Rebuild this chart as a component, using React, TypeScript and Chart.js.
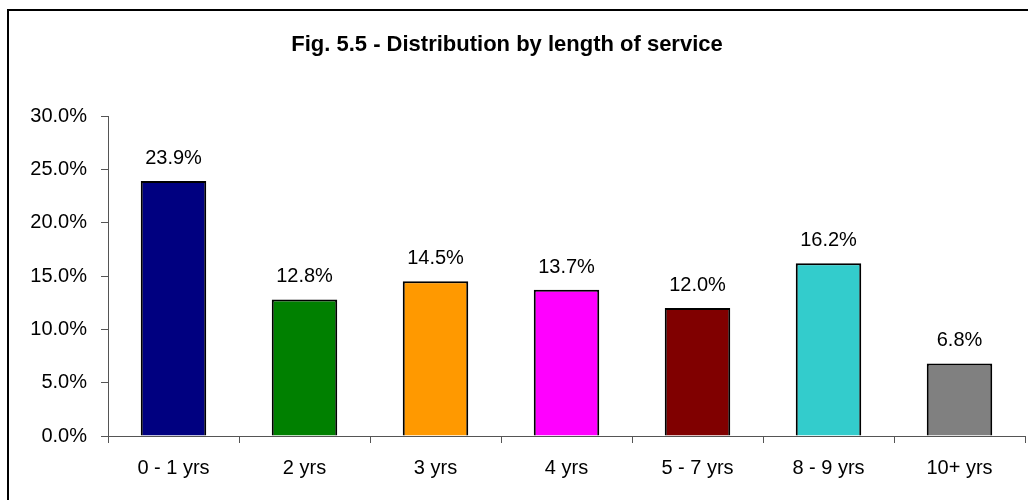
import React, { useEffect, useRef } from "react";
import { Chart, registerables } from "chart.js";

Chart.register(...registerables);

const TITLE = "Fig. 5.5 - Distribution by length of service";
const categories = ["0 - 1 yrs", "2 yrs", "3 yrs", "4 yrs", "5 - 7 yrs", "8 - 9 yrs", "10+ yrs"];
const shares = [23.9, 12.8, 14.5, 13.7, 12.0, 16.2, 6.8];
const barColors = ["#000080", "#008000", "#FF9900", "#FF00FF", "#800000", "#33CCCC", "#808080"];
const yTicks = [0, 5, 10, 15, 20, 25, 30];

const FONT = "'Liberation Sans', Arial, sans-serif";
const AXIS_COLOR = "#555555";

// Outer frame, title and value labels above each bar
const decorations = {
  id: "decorations",
  beforeDraw(chart: any) {
    const { ctx } = chart;
    ctx.save();
    ctx.fillStyle = "#ffffff";
    ctx.fillRect(0, 0, chart.width, chart.height);
    ctx.strokeStyle = "#000000";
    ctx.lineWidth = 2;
    ctx.beginPath();
    ctx.moveTo(8, chart.height + 2);
    ctx.lineTo(8, 10);
    ctx.lineTo(chart.width + 2, 10);
    ctx.stroke();
    ctx.restore();
  },
  afterDatasetsDraw(chart: any) {
    const { ctx } = chart;
    ctx.save();
    ctx.fillStyle = "#000000";
    ctx.textAlign = "center";
    ctx.textBaseline = "alphabetic";
    ctx.font = `bold 22px ${FONT}`;
    ctx.fillText(TITLE, 507, 51);
    ctx.font = `20px ${FONT}`;
    const meta = chart.getDatasetMeta(0);
    meta.data.forEach((bar: any, i: number) => {
      ctx.fillText(shares[i].toFixed(1) + "%", bar.x, bar.y - 17);
    });
    ctx.restore();
  },
};

export default function App() {
  const canvasRef = useRef<HTMLCanvasElement | null>(null);

  useEffect(() => {
    const canvas = canvasRef.current;
    if (!canvas) return;
    const chart = new Chart(canvas, {
      type: "bar",
      data: {
        labels: categories,
        datasets: [
          {
            data: shares,
            backgroundColor: barColors,
            borderColor: "#000000",
            borderWidth: 2,
            categoryPercentage: 1,
            barPercentage: 0.5,
          },
        ],
      },
      options: {
        responsive: false,
        animation: false,
        events: [],
        layout: { padding: { top: 116, right: 3, left: 0, bottom: 0 } },
        plugins: {
          legend: { display: false },
          title: { display: false },
          tooltip: { enabled: false },
        },
        scales: {
          x: {
            grid: {
              offset: true,
              drawOnChartArea: false,
              drawTicks: true,
              tickLength: 7,
              color: AXIS_COLOR,
            },
            border: { display: true, color: AXIS_COLOR, width: 1 },
            ticks: {
              color: "#000000",
              font: { family: FONT, size: 20 },
              padding: 13,
              maxRotation: 0,
            },
            afterFit: (scale: any) => {
              scale.height = 64;
            },
          },
          y: {
            min: 0,
            max: 30,
            afterBuildTicks: (scale: any) => {
              scale.ticks = yTicks.map((v) => ({ value: v }));
            },
            grid: {
              drawOnChartArea: false,
              drawTicks: true,
              tickLength: 7,
              color: AXIS_COLOR,
            },
            border: { display: true, color: AXIS_COLOR, width: 1 },
            ticks: {
              color: "#000000",
              font: { family: FONT, size: 20 },
              padding: 14,
              callback: (v: any) => Number(v).toFixed(1) + "%",
            },
            afterFit: (scale: any) => {
              scale.width = 108;
            },
          },
        },
      },
      plugins: [decorations],
    });
    return () => chart.destroy();
  }, []);

  return (
    <div style={{ position: "fixed", left: 0, top: 0, width: 1028, height: 500, background: "#fff" }}>
      <canvas ref={canvasRef} width={1028} height={500} style={{ display: "block", width: 1028, height: 500 }} />
    </div>
  );
}
